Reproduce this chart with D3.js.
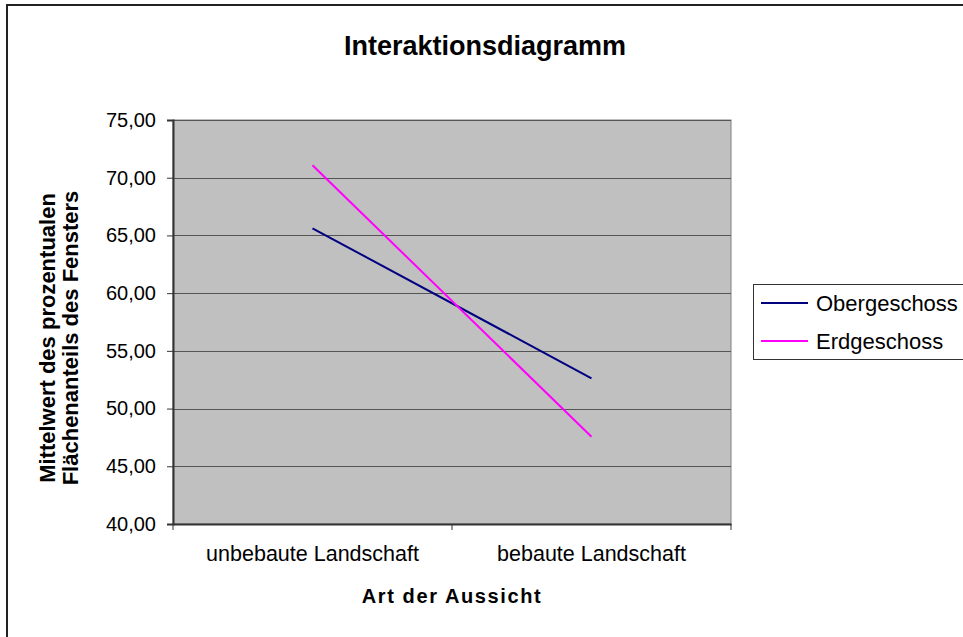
<!DOCTYPE html>
<html>
<head>
<meta charset="utf-8">
<script src="https://cdn.jsdelivr.net/npm/d3@7"></script>
<style>
	body { margin: 0; background: #fff; }
	svg { display: block; font-family: "Liberation Sans", Arial, sans-serif; }
</style>
</head>
<body>
<svg id="chart" width="963" height="637"></svg>
<script>
var categories = ["unbebaute Landschaft", "bebaute Landschaft"];
var seriesNames = ["Obergeschoss", "Erdgeschoss"];
var obergeschoss = [65.62, 52.62];
var erdgeschoss = [71.08, 47.56];
var yTicks = [40, 45, 50, 55, 60, 65, 70, 75];
var colors = ["#000080", "#ff00ff"];

var series = [
	{name: seriesNames[0], values: obergeschoss, color: colors[0]},
	{name: seriesNames[1], values: erdgeschoss, color: colors[1]}
];

var svg = d3.select("#chart");
var margin = {top: 120, left: 173, right: 731, bottom: 524};

// outer frame (only top and left visible)
svg.append("rect")
	.attr("x", 7).attr("y", 5)
	.attr("width", 1000).attr("height", 700)
	.attr("fill", "none").attr("stroke", "#222").attr("stroke-width", 2);

var x = d3.scaleBand().domain(categories).range([margin.left, margin.right]);
var y = d3.scaleLinear().domain([40, 75]).range([margin.bottom, margin.top]);

// plot area
svg.append("rect")
	.attr("x", margin.left).attr("y", margin.top)
	.attr("width", margin.right - margin.left).attr("height", margin.bottom - margin.top)
	.attr("fill", "#c0c0c0").attr("stroke", "#808080").attr("stroke-width", 1);

// gridlines
svg.append("g").selectAll("line")
	.data(yTicks.slice(1))
	.enter().append("line")
	.attr("x1", margin.left).attr("x2", margin.right)
	.attr("y1", function(d){ return Math.round(y(d)) + 0.5; })
	.attr("y2", function(d){ return Math.round(y(d)) + 0.5; })
	.attr("stroke", "#555").attr("stroke-width", 1);

// y axis
var fmt = function(d){ return d.toFixed(2).replace(".", ","); };
var yAxis = svg.append("g")
	.attr("transform", "translate(" + margin.left + ",0)")
	.call(d3.axisLeft(y).tickValues(yTicks).tickFormat(fmt).tickSize(6).tickPadding(11));
yAxis.select(".domain").attr("stroke", "#333").attr("stroke-width", 2);
yAxis.selectAll(".tick line").attr("stroke", "#333");
yAxis.selectAll("text").attr("font-size", 20).attr("fill", "#000")
	.attr("font-family", "Liberation Sans, Arial, sans-serif");

// x axis
var xAxis = svg.append("g")
	.attr("transform", "translate(0," + margin.bottom + ")")
	.call(d3.axisBottom(x).tickSize(0).tickPadding(22));
xAxis.select(".domain").attr("stroke", "#333").attr("stroke-width", 2);
xAxis.selectAll("text").attr("font-size", 21.5).attr("fill", "#000")
	.attr("font-family", "Liberation Sans, Arial, sans-serif");
// tick marks at band boundaries
xAxis.selectAll(".bound")
	.data([margin.left, x(categories[1]), margin.right])
	.enter().append("line")
	.attr("x1", function(d){ return d; }).attr("x2", function(d){ return d; })
	.attr("y1", 0).attr("y2", 6)
	.attr("stroke", "#333");

// lines
var line = d3.line()
	.x(function(d, i){ return x(categories[i]) + x.bandwidth() / 2; })
	.y(function(d){ return y(d); });

svg.append("g").selectAll("path")
	.data(series)
	.enter().append("path")
	.attr("d", function(d){ return line(d.values); })
	.attr("fill", "none")
	.attr("stroke", function(d){ return d.color; })
	.attr("stroke-width", 2);

// title
svg.append("text")
	.attr("x", 485).attr("y", 55)
	.attr("text-anchor", "middle")
	.attr("font-size", 27).attr("font-weight", "bold")
	.text("Interaktionsdiagramm");

// axis titles
svg.append("text")
	.attr("x", 452).attr("y", 603)
	.attr("text-anchor", "middle")
	.attr("font-size", 20).attr("font-weight", "bold")
	.attr("letter-spacing", 1.6)
	.text("Art der Aussicht");

var yTitle = svg.append("text")
	.attr("transform", "translate(55,338)rotate(-90)")
	.attr("text-anchor", "middle")
	.attr("font-size", 22).attr("font-weight", "bold");
yTitle.append("tspan").attr("x", 0).attr("dy", 0).text("Mittelwert des prozentualen");
yTitle.append("tspan").attr("x", 0).attr("dy", 23).text("Flächenanteils des Fensters");

// legend
var legend = svg.append("g");
legend.append("rect")
	.attr("x", 753.5).attr("y", 284.5)
	.attr("width", 220).attr("height", 75)
	.attr("fill", "#fff").attr("stroke", "#333").attr("stroke-width", 1);
var items = legend.selectAll(".item")
	.data(series)
	.enter().append("g")
	.attr("transform", function(d, i){ return "translate(0," + (303 + i * 38) + ")"; });
items.append("line")
	.attr("x1", 761).attr("x2", 808)
	.attr("stroke", function(d){ return d.color; })
	.attr("stroke-width", 2);
items.append("text")
	.attr("x", 816).attr("y", 7.5)
	.attr("font-size", 22)
	.text(function(d){ return d.name; });
</script>
</body>
</html>
